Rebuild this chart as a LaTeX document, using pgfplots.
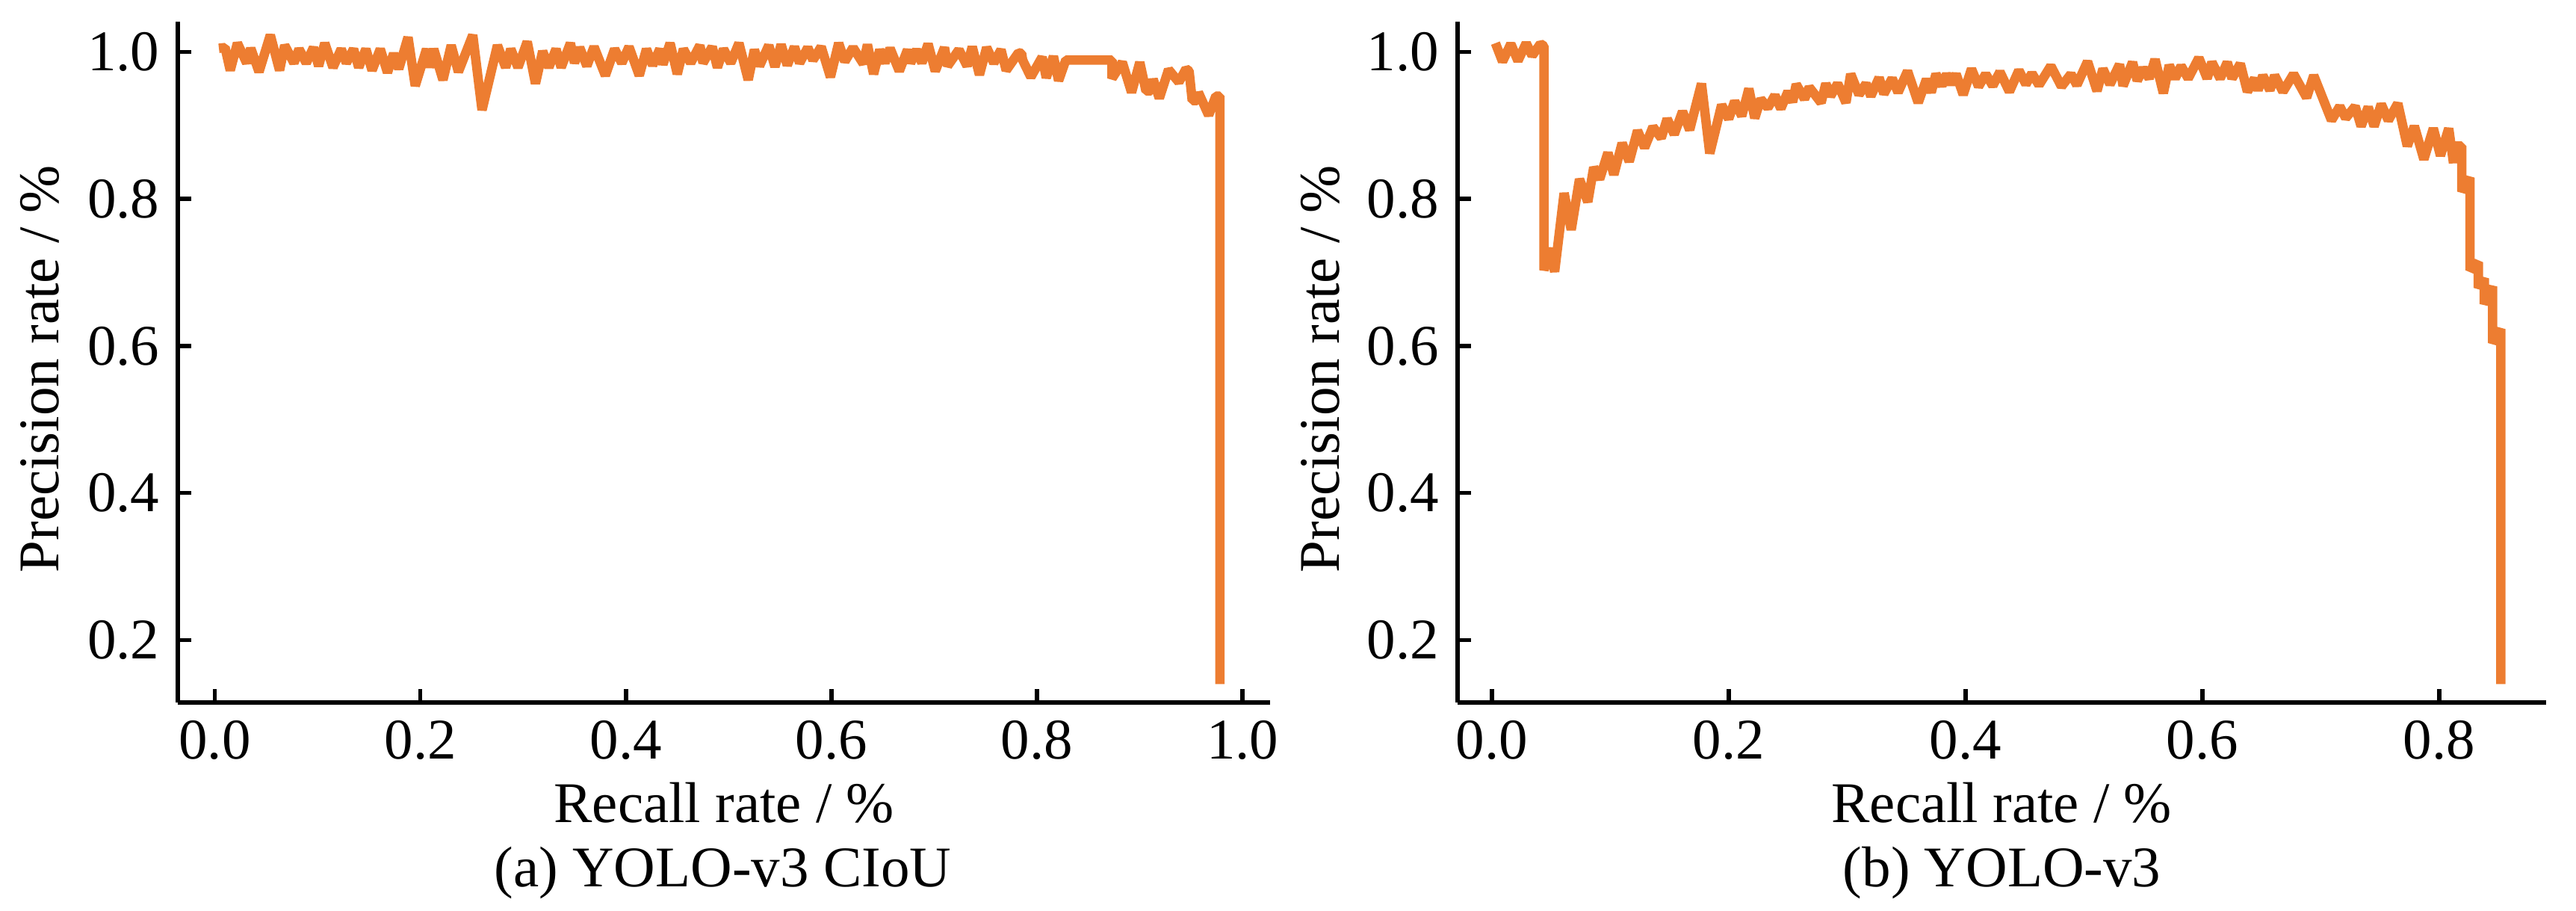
\documentclass[border=0pt]{standalone}
\usepackage{fontspec}
\setmainfont{Liberation Serif}
\usepackage{pgfplots}
\pgfplotsset{compat=1.18}

\definecolor{prorange}{HTML}{ED7D31}

% tick numbers: one decimal, set in the text font
\pgfplotsset{
  /pgf/number format/fixed,
  /pgf/number format/fixed zerofill,
  /pgf/number format/precision=1,
  /pgf/number format/assume math mode=true,
}

\pgfplotsset{
  prpanel/.style={
    scale only axis,
    anchor=south west,
    height=130.1pt,
    axis x line*=bottom,
    axis y line*=left,
    axis line style={line width=0.9pt},
    tick align=inside,
    major tick length=2.6pt,
    every tick/.style={black, line width=0.8pt},
    ymin=0.115, ymax=1.041,
    ytick={0.2,0.4,0.6,0.8,1.0},
    tick label style={font=\rmfamily\fontsize{11}{13}\selectfont},
    label style={font=\rmfamily\fontsize{11}{13}\selectfont},
    xlabel={Recall rate / \%},
    ylabel={Precision rate / \%},
    xlabel style={at={(axis description cs:0.5,0)}, anchor=base, yshift=-22.96pt},
    ylabel style={at={(axis description cs:-0.126,0.49)}, anchor=center},
  },
  prline/.style={color=prorange, line width=1.8pt, line join=bevel, mark=none},
}

% precision-recall curve, YOLO-v3 with CIoU loss
\pgfplotstableread{
x y
0.004 1.005
0.010 1.006
0.015 0.975
0.022 1.012
0.031 0.985
0.035 1.005
0.043 0.973
0.054 1.023
0.063 0.975
0.068 1.009
0.077 0.985
0.082 1.004
0.089 0.985
0.096 1.006
0.101 0.981
0.107 1.012
0.115 0.979
0.123 1.004
0.128 0.985
0.135 1.004
0.140 0.979
0.147 1.004
0.153 0.975
0.161 1.004
0.168 0.972
0.174 0.998
0.179 0.977
0.188 1.020
0.195 0.954
0.206 1.004
0.209 0.979
0.213 1.004
0.222 0.962
0.230 1.009
0.237 0.973
0.251 1.023
0.260 0.921
0.275 1.009
0.283 0.979
0.288 1.004
0.295 0.979
0.304 1.014
0.312 0.957
0.319 1.001
0.325 0.979
0.332 1.004
0.337 0.979
0.346 1.012
0.350 0.985
0.355 1.006
0.362 0.981
0.369 1.007
0.380 0.968
0.389 1.004
0.396 0.985
0.403 1.007
0.413 0.968
0.420 1.004
0.426 0.982
0.433 1.004
0.436 0.983
0.443 1.012
0.450 0.970
0.456 1.004
0.463 0.985
0.472 1.009
0.475 0.985
0.484 1.007
0.489 0.979
0.495 1.004
0.502 0.985
0.510 1.012
0.519 0.962
0.525 1.003
0.530 0.981
0.539 1.009
0.545 0.980
0.551 1.010
0.557 0.982
0.564 1.007
0.569 0.985
0.577 1.006
0.582 0.989
0.590 1.007
0.599 0.966
0.607 1.012
0.613 0.987
0.621 1.006
0.631 0.984
0.635 1.010
0.641 0.970
0.647 1.003
0.652 0.985
0.657 1.005
0.666 0.974
0.674 1.003
0.677 0.985
0.683 1.003
0.688 0.985
0.694 1.011
0.701 0.974
0.710 1.006
0.713 0.981
0.724 1.003
0.732 0.981
0.737 1.007
0.744 0.969
0.751 1.006
0.758 0.985
0.765 1.003
0.770 0.975
0.782 0.999
0.785 0.998
0.786 0.989
0.794 0.966
0.805 0.993
0.809 0.965
0.816 0.994
0.821 0.961
0.828 0.989
0.873 0.989
0.873 0.964
0.883 0.986
0.892 0.945
0.900 0.986
0.906 0.947
0.911 0.947
0.913 0.963
0.919 0.937
0.928 0.976
0.938 0.959
0.945 0.977
0.948 0.974
0.951 0.934
0.956 0.934
0.957 0.945
0.967 0.914
0.974 0.940
0.978 0.940
0.978 0.140
}\ciou

% precision-recall curve, baseline YOLO-v3
\pgfplotstableread{
x y
0.003 1.012
0.009 0.987
0.016 1.011
0.022 0.988
0.029 1.012
0.034 0.995
0.041 1.011
0.044 1.008
0.044 0.703
0.049 0.733
0.053 0.701
0.061 0.808
0.067 0.758
0.074 0.827
0.081 0.796
0.086 0.843
0.091 0.827
0.098 0.863
0.103 0.833
0.110 0.876
0.116 0.851
0.123 0.893
0.129 0.870
0.136 0.898
0.143 0.883
0.148 0.909
0.154 0.888
0.161 0.919
0.167 0.894
0.177 0.957
0.184 0.862
0.194 0.928
0.200 0.909
0.205 0.933
0.211 0.913
0.217 0.950
0.222 0.910
0.227 0.936
0.233 0.924
0.239 0.941
0.244 0.923
0.250 0.946
0.254 0.932
0.257 0.956
0.264 0.936
0.268 0.952
0.278 0.931
0.282 0.957
0.286 0.940
0.292 0.957
0.299 0.931
0.303 0.970
0.310 0.942
0.316 0.957
0.320 0.940
0.327 0.965
0.331 0.943
0.338 0.964
0.343 0.945
0.351 0.974
0.360 0.931
0.367 0.963
0.371 0.945
0.375 0.970
0.380 0.954
0.384 0.970
0.388 0.956
0.392 0.970
0.398 0.942
0.405 0.977
0.411 0.953
0.417 0.970
0.423 0.954
0.429 0.973
0.437 0.946
0.445 0.975
0.451 0.956
0.456 0.971
0.462 0.955
0.472 0.981
0.481 0.953
0.489 0.970
0.494 0.955
0.503 0.987
0.511 0.947
0.516 0.977
0.522 0.956
0.530 0.983
0.533 0.954
0.541 0.986
0.545 0.961
0.550 0.978
0.555 0.964
0.560 0.990
0.567 0.944
0.572 0.982
0.577 0.964
0.582 0.981
0.588 0.964
0.597 0.992
0.604 0.964
0.608 0.986
0.615 0.964
0.621 0.986
0.625 0.964
0.632 0.984
0.638 0.946
0.644 0.964
0.647 0.948
0.651 0.968
0.657 0.948
0.661 0.968
0.668 0.946
0.677 0.970
0.688 0.938
0.694 0.968
0.709 0.907
0.716 0.926
0.721 0.910
0.729 0.926
0.734 0.899
0.740 0.925
0.745 0.899
0.751 0.929
0.757 0.907
0.765 0.930
0.773 0.872
0.779 0.899
0.787 0.854
0.795 0.896
0.801 0.859
0.808 0.896
0.812 0.849
0.813 0.872
0.819 0.872
0.819 0.810
0.826 0.829
0.826 0.703
0.833 0.714
0.833 0.679
0.838 0.692
0.838 0.657
0.845 0.681
0.845 0.604
0.852 0.623
0.852 0.140
}\baseline

\begin{document}
\begin{tikzpicture}
\path[use as bounding box] (0,0) rectangle (492.57pt,174.14pt);

\begin{axis}[prpanel, at={(34pt,39.86pt)}, width=208.9pt,
  xmin=-0.036, xmax=1.027, xtick={0,0.2,0.4,0.6,0.8,1.0}]
  \addplot[prline] table[x=x, y=y] {\ciou};
\end{axis}

\begin{axis}[prpanel, at={(278.7pt,39.86pt)}, width=208.1pt,
  xmin=-0.029, xmax=0.89, xtick={0,0.2,0.4,0.6,0.8}]
  \addplot[prline] table[x=x, y=y] {\baseline};
\end{axis}

\node[anchor=base, font=\rmfamily\fontsize{11}{13}\selectfont] at (138.2pt,4.6pt) {(a) YOLO-v3 CIoU};
\node[anchor=base, font=\rmfamily\fontsize{11}{13}\selectfont] at (382.8pt,4.6pt) {(b) YOLO-v3};
\end{tikzpicture}
\end{document}
